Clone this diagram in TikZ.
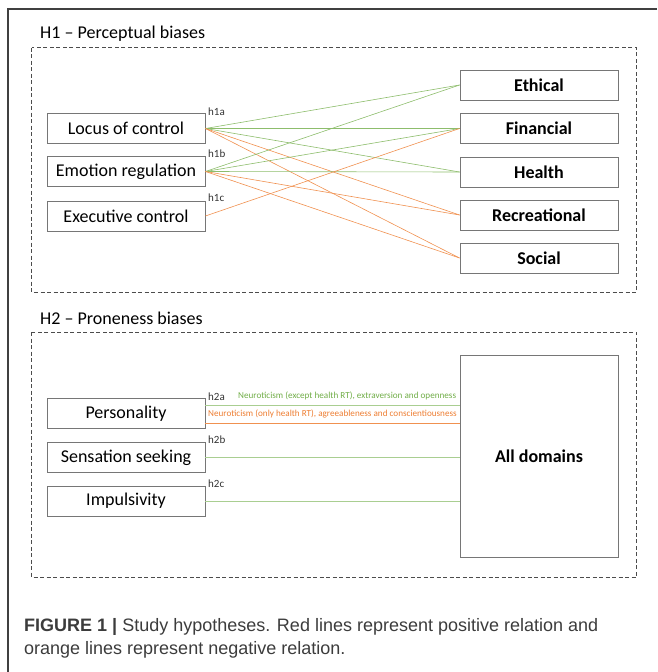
\documentclass[tikz,border=0pt]{standalone}
\usepackage{fontspec}
\setmainfont{Carlito}
\newfontfamily\capfont{Liberation Sans}
\usetikzlibrary{positioning,calc}
\definecolor{posgreen}{HTML}{70AD47}
\definecolor{neworange}{HTML}{ED7D31}
\definecolor{boxgray}{HTML}{767676}
\definecolor{capgray}{HTML}{3C3C3C}

\begin{document}
\begin{tikzpicture}[x=1pt, y=-1pt,
  factor/.style={rectangle, draw=boxgray, line width=0.9pt, minimum width=158pt, minimum height=30pt, inner sep=0pt, align=center, font=\fontsize{18}{20}\selectfont},
  riskbox/.style={factor, font=\fontsize{18}{20}\selectfont\bfseries},
  groupbox/.style={draw=black!70, line width=0.9pt, dash pattern=on 4pt off 2.5pt},
  hyp/.style={anchor=west, inner sep=0pt, font=\fontsize{11}{12}\selectfont, text=black!80},
  note/.style={anchor=west, inner sep=0pt, font=\fontsize{9.15}{10}\selectfont},
  posline/.style={posgreen!80, line width=0.6pt},
  negline/.style={neworange!85, line width=0.6pt},
  paleline/.style={posgreen!60, line width=0.7pt},
  captext/.style={anchor=base west, inner sep=0pt, text=capgray, font=\capfont\fontsize{18}{23}\selectfont}
]
  \useasboundingbox (0,0) rectangle (657,672);
  % outer frame
  \draw[black!75, line width=1.2pt] (8,672) -- (8,9) -- (657,9);

  % H1
  \node[anchor=west, inner sep=0pt, font=\fontsize{18}{20}\selectfont] (t1) at (40,34) {H1 -- Perceptual biases};
  \draw[groupbox] (31.5,47.5) rectangle (636.5,292);
  \node[factor] (loc) at (126,128.5) {Locus of control};
  \node[factor] (emo) at (126,171.5) {Emotion regulation};
  \node[factor] (exe) at (126,216) {Executive control};
  \node[riskbox] (eth) at (539,85) {Ethical};
  \node[riskbox] (fin) at (539,128.5) {Financial};
  \node[riskbox] (hea) at (539,172) {Health};
  \node[riskbox] (rec) at (539,215) {Recreational};
  \node[riskbox] (soc) at (539,258) {Social};
  \node[hyp] (h1a) at (208,112) {h1a};
  \node[hyp] (h1b) at (208,154) {h1b};
  \node[hyp] (h1c) at (208,198) {h1c};
  \draw[posline] (loc.east) -- (eth.west);
  \draw[posline] (loc.east) -- (fin.west);
  \draw[posline] (loc.east) -- (hea.west);
  \draw[negline] (loc.east) -- (rec.west);
  \draw[negline] (loc.east) -- (soc.west);
  \draw[posline] (emo.east) -- (eth.west);
  \draw[posline] (emo.east) -- (fin.west);
  \draw[posline] (emo.east) -- (hea.west);
  \draw[negline] (emo.east) -- (rec.west);
  \draw[negline] (emo.east) -- (soc.west);
  \draw[negline] (exe.east) -- (fin.west);

  % H2
  \node[anchor=west, inner sep=0pt, font=\fontsize{18}{20}\selectfont] (t2) at (40,318) {H2 -- Proneness biases};
  \draw[groupbox] (31.5,332) rectangle (636.5,577);
  \node[factor] (per) at (126,413.5) {Personality};
  \node[factor] (sen) at (126,457.5) {Sensation seeking};
  \node[factor] (imp) at (126,501) {Impulsivity};
  \node[riskbox, minimum height=202pt] (all) at (539,456) {All domains};
  \node[hyp] (h2a) at (208,397) {h2a};
  \node[hyp] (h2b) at (208,440) {h2b};
  \node[hyp] (h2c) at (208,484) {h2c};
  \node[note, text=posgreen] (na) at (238,396) {Neuroticism (except health RT), extraversion and openness};
  \node[note, text=neworange] (nb) at (208,413.5) {Neuroticism (only health RT), agreeableness and conscientiousness};
  \draw[paleline] ([yshift=8.5pt]per.east) -- ([yshift=8.5pt]per.east -| all.west);
  \draw[negline] ([yshift=-9.5pt]per.east) -- ([yshift=-9.5pt]per.east -| all.west);
  \draw[paleline] (sen.east) -- (sen.east -| all.west);
  \draw[paleline] (imp.east) -- (imp.east -| all.west);

  % caption
  \node[captext] (cap1) at (24,631) {\textbf{FIGURE 1 |} Study hypotheses. Red lines represent positive relation and};
  \node[captext] (cap2) at (24,654) {orange lines represent negative relation.};
\end{tikzpicture}
\end{document}
